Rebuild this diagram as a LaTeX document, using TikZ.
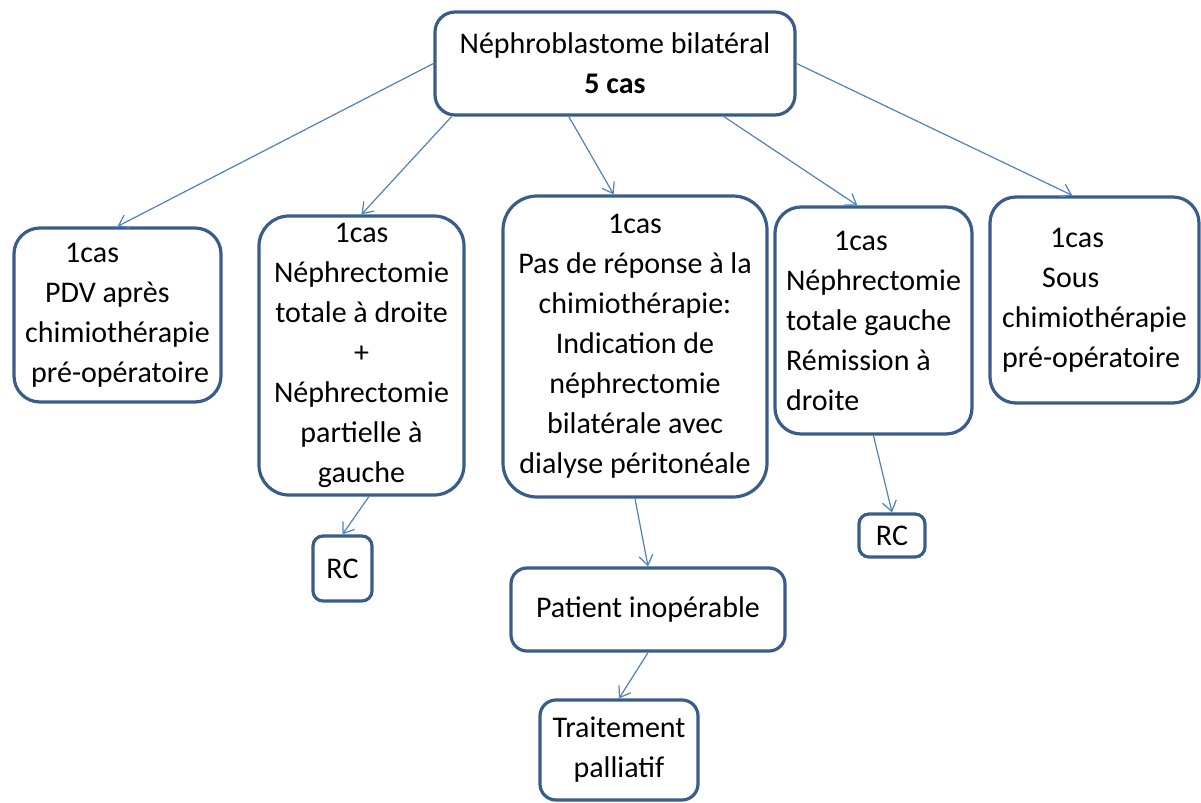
\documentclass[tikz,border=0pt]{standalone}
\usepackage{fontspec}
\setmainfont{Carlito}
\usetikzlibrary{arrows.meta}

\definecolor{boxline}{HTML}{385D8A}
\definecolor{linkline}{HTML}{4F81BD}

\tikzset{
    casebox/.style={draw=boxline, line width=1.6pt, rounded corners=13pt, inner sep=0pt,
        font=\fontsize{15}{20}\selectfont},
    link/.style={draw=linkline, line width=0.6pt, -{Straight Barb[length=5pt, width=7pt]}},
}

\begin{document}
\begin{tikzpicture}[x=0.5pt, y=-0.5pt]
    \useasboundingbox (0,0) rectangle (1201,803);

    % root
    \node[casebox, rounded corners=10pt, minimum width=180pt, minimum height=51.5pt, align=center]
        (root) at (615,63.5) {Néphroblastome bilatéral\\\textbf{5 cas}};

    % the five cases
    \node[casebox, minimum width=103.5pt, minimum height=87pt, align=left]
        (pdv) at (117.5,315) {\hspace*{20pt}1cas\\\hspace*{10pt}PDV après\\chimiothérapie\\\hspace*{3pt}pré-opératoire};
    \node[casebox, rounded corners=15pt, minimum width=102.5pt, minimum height=139.5pt, align=center]
        (droite) at (361.5,355.5) {1cas\\Néphrectomie\\totale à droite\\+\\Néphrectomie\\partielle à\\gauche};
    \node[casebox, rounded corners=17pt, minimum width=132pt, minimum height=150.5pt, align=center]
        (nonrep) at (635,346.5) {1cas\\Pas de réponse à la\\chimiothérapie:\\Indication de\\néphrectomie\\bilatérale avec\\dialyse péritonéale};
    \node[casebox, minimum width=98.5pt, minimum height=113.5pt, align=left]
        (gauche) at (873.5,320.5) {\hspace*{24pt}1cas\\Néphrectomie\\totale gauche\\Rémission à\\droite};
    \node[casebox, minimum width=104.5pt, minimum height=103pt, align=left]
        (sous) at (1094.5,300) {\hspace*{24pt}1cas\\\hspace*{20pt}Sous\\chimiothérapie\\pré-opératoire};

    % outcomes
    \node[casebox, rounded corners=5pt, minimum width=29.5pt, minimum height=32.5pt]
        (rcA) at (342.5,568.5) {RC};
    \node[casebox, rounded corners=5pt, minimum width=33pt, minimum height=21.5pt]
        (rcB) at (892,535.5) {RC};
    \node[casebox, rounded corners=8pt, minimum width=137pt, minimum height=41.5pt]
        (inop) at (648,609.5) {Patient inopérable};
    \node[casebox, rounded corners=8pt, minimum width=79pt, minimum height=50pt, align=center]
        (pall) at (619,750) {Traitement\\palliatif};

    % links
    \draw[link] (root.west) -- (pdv.north);
    \draw[link] (root.198) -- (droite.north);
    \draw[link] (root.229) -- (nonrep.98);
    \draw[link] (root.334) -- (gauche.98);
    \draw[link] (root.east) -- (sous.102);
    \draw[link] (droite.273) -- (rcA.north);
    \draw[link] (nonrep.south) -- (inop.north);
    \draw[link] (inop.south) -- (pall.north);
    \draw[link] (gauche.south) -- (rcB.north);
\end{tikzpicture}
\end{document}
